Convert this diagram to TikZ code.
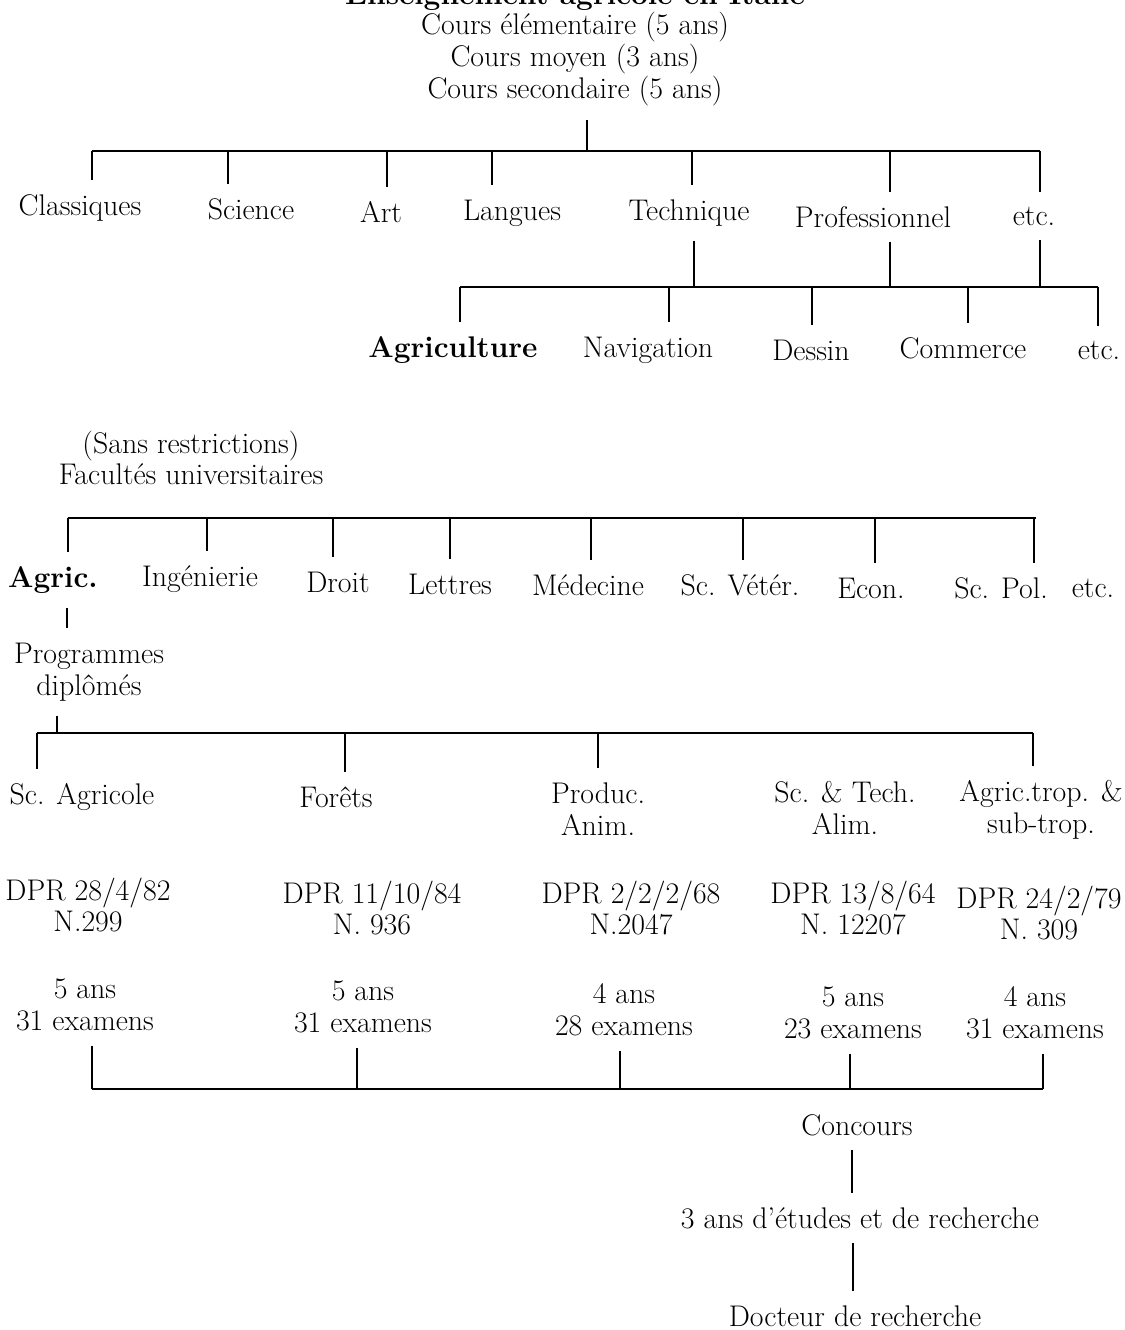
\documentclass[tikz,border=0pt]{standalone}
\begin{document}
\begin{tikzpicture}[x=0.02cm,y=-0.02cm,line width=1pt,
    every node/.style={font=\fontsize{17}{18}\selectfont,align=center,outer sep=5pt},
    gras/.style={font=\fontsize{17}{18}\selectfont\bfseries}]
  \useasboundingbox (0,0) rectangle (1125,1330);
  % titre et cours
  \node[gras,anchor=base] (titre) at (575,4) {Enseignement agricole en Italie};
  \node (cours) at (575,59) {Cours \'el\'ementaire (5 ans)\\Cours moyen (3 ans)\\Cours secondaire (5 ans)};
  % filieres
  \node (classiques) at (80,208) {Classiques};
  \node (science) at (251,209) {Science};
  \node (art) at (381,212) {Art};
  \node (langues) at (512,213) {Langues};
  \node (technique) at (689,213) {Technique};
  \node (professionnel) at (873,217) {Professionnel};
  \node (etcA) at (1034,216) {etc.};
  \node[gras] (agriculture) at (453,350) {Agriculture};
  \node (navigation) at (648,350) {Navigation};
  \node (dessin) at (811,350) {Dessin};
  \node (commerce) at (963,348) {Commerce};
  \node (etcB) at (1099,350) {etc.};
  % facultes
  \node (facultes) at (191,458) {(Sans restrictions)\\Facult\'es universitaires};
  \node[gras] (agric) at (53,580) {Agric.};
  \node (ingenierie) at (200,579) {Ing\'enierie};
  \node (droit) at (338,582) {Droit};
  \node (lettres) at (450,584) {Lettres};
  \node (medecine) at (588,585) {M\'edecine};
  \node (scvet) at (740,585) {Sc. V\'et\'er.};
  \node (econ) at (871,588) {Econ.};
  \node (scpol) at (1001,588) {Sc. Pol.};
  \node (etcC) at (1093,588) {etc.};
  \node (programmes) at (89,672) {Programmes\\dipl\^om\'es};
  % programmes
  \node (scagri) at (82,797) {Sc. Agricole};
  \node (forets) at (336,797) {For\^ets};
  \node (produc) at (598,809) {Produc.\\Anim.};
  \node (sctech) at (845,808) {Sc. \& Tech.\\Alim.};
  \node (agrictrop) at (1041,810) {Agric.trop. \&\\sub-trop.};
  \node (dprA) at (88,905) {DPR 28/4/82\\N.299};
  \node (dprB) at (372,908) {DPR 11/10/84\\N. 936};
  \node (dprC) at (631,908) {DPR 2/2/2/68\\N.2047};
  \node (dprD) at (853,908) {DPR 13/8/64\\N. 12207};
  \node (dprE) at (1039,913) {DPR 24/2/79\\N. 309};
  \node (ansA) at (85,1005) {5 ans\\31 examens};
  \node (ansB) at (363,1007) {5 ans\\31 examens};
  \node (ansC) at (624,1010) {4 ans\\28 examens};
  \node (ansD) at (853,1013) {5 ans\\23 examens};
  \node (ansE) at (1035,1013) {4 ans\\31 examens};
  \node (concours) at (857,1125) {Concours};
  \node (etudes) at (860,1218) {3 ans d'\'etudes et de recherche};
  \node (docteur) at (855,1316) {Docteur de recherche};
  % barres
  \coordinate (b1w) at (92,151);   \coordinate (b1e) at (1040,151);
  \coordinate (b2w) at (460,287);  \coordinate (b2e) at (1098,287);
  \coordinate (b3w) at (68,518);   \coordinate (b3e) at (1036,518);
  \coordinate (b4w) at (37,733);   \coordinate (b4e) at (1033,733);
  \coordinate (b5w) at (92,1089);  \coordinate (b5e) at (1043,1089);
  \draw (b1w) -- (b1e);
  \draw (b2w) -- (b2e);
  \draw (b3w) -- (b3e);
  \draw (b4w) -- (b4e);
  \draw (b5w) -- (b5e);
  % liaisons
  \draw (587,0 |- cours.south) -- (587,0 |- b1w);
  \foreach \x/\n in {92/classiques,228/science,387/art,492/langues,692/technique,890/professionnel,1040/etcA}
    \draw (\x,0 |- b1w) -- (\x,0 |- \n.north);
  \foreach \x/\n in {694/technique,890/professionnel,1040/etcA}
    \draw (\x,0 |- \n.south) -- (\x,0 |- b2w);
  \foreach \x/\n in {460/agriculture,669/navigation,812/dessin,968/commerce,1098/etcB}
    \draw (\x,0 |- b2w) -- (\x,0 |- \n.north);
  \foreach \x/\n in {68/agric,207/ingenierie,333/droit,450/lettres,591/medecine,743/scvet,875/econ,1034/scpol}
    \draw (\x,0 |- b3w) -- (\x,0 |- \n.north);
  \draw (67,0 |- agric.south) -- (67,0 |- programmes.north);
  \draw (57,0 |- programmes.south) -- (57,0 |- b4w);
  \foreach \x/\n in {37/scagri,345/forets,598/produc,1033/agrictrop}
    \draw (\x,0 |- b4w) -- (\x,0 |- \n.north);
  \foreach \x/\n in {92/ansA,357/ansB,620/ansC,850/ansD,1043/ansE}
    \draw (\x,0 |- \n.south) -- (\x,0 |- b5w);
  \draw (852,0 |- concours.south) -- (852,0 |- etudes.north);
  \draw (853,0 |- etudes.south) -- (853,0 |- docteur.north);
\end{tikzpicture}
\end{document}
